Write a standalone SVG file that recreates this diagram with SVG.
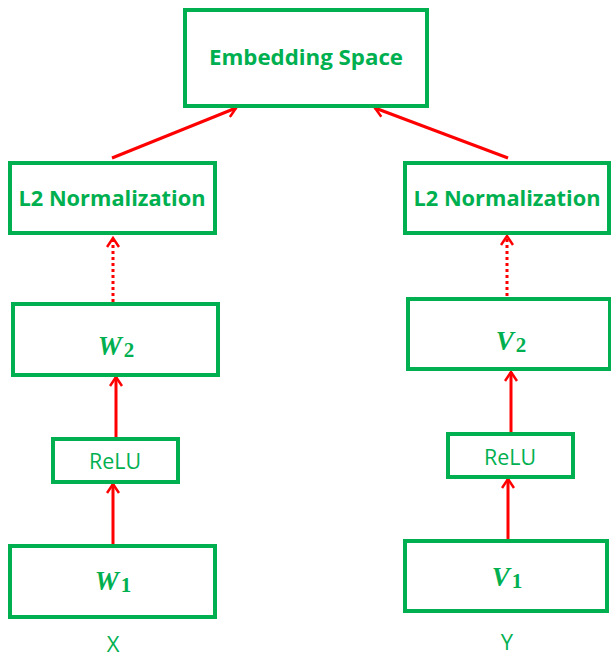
<svg xmlns="http://www.w3.org/2000/svg" width="611" height="657" viewBox="0 0 611 657">
<style>
.box{fill:#fff;stroke:#00B050;stroke-width:4}
.t{font-family:"Open Sans","Liberation Sans",sans-serif;fill:#00B050;text-anchor:middle}
.b{font-weight:bold;font-size:22px}
.r{font-size:22px}
.m{font-family:"Liberation Serif",serif;font-weight:bold;font-style:italic;font-size:27px;fill:#00B050;text-anchor:middle}
.s{font-family:"Liberation Serif",serif;font-weight:bold;font-style:normal;font-size:21px}
.c{stroke:#FF0000;stroke-width:3;fill:none}
.d{stroke-dasharray:3 3}
</style>
<defs>
<marker id="ah" markerWidth="14" markerHeight="14" refX="11" refY="7" orient="auto" markerUnits="userSpaceOnUse">
<path d="M2,1 L11,7 L2,13" fill="none" stroke="#FF0000" stroke-width="2.5"/>
</marker>
</defs>
<g id="connectors">
<line class="c" x1="112" y1="158" x2="236" y2="108" marker-end="url(#ah)"/>
<line class="c" x1="508" y1="158" x2="375" y2="108" marker-end="url(#ah)"/>
<line class="c d" x1="113" y1="302" x2="113" y2="238" marker-end="url(#ah)"/>
<line class="c d" x1="507" y1="296" x2="507" y2="236" marker-end="url(#ah)"/>
<line class="c" x1="116" y1="437" x2="116" y2="377" marker-end="url(#ah)"/>
<line class="c" x1="511" y1="432" x2="511" y2="372" marker-end="url(#ah)"/>
<line class="c" x1="113" y1="544" x2="113" y2="484" marker-end="url(#ah)"/>
<line class="c" x1="508" y1="540" x2="508" y2="479" marker-end="url(#ah)"/>
</g>
<g id="embedding">
<rect class="box" x="185" y="10" width="242" height="96"/>
<text class="t b" x="306" y="65" textLength="194" lengthAdjust="spacingAndGlyphs">Embedding Space</text>
</g>
<g id="l2-left">
<rect class="box" x="10" y="163" width="205" height="70"/>
<text class="t b" x="112" y="206" textLength="187" lengthAdjust="spacingAndGlyphs">L2 Normalization</text>
</g>
<g id="l2-right">
<rect class="box" x="405" y="163" width="204" height="70"/>
<text class="t b" x="507" y="206" textLength="187" lengthAdjust="spacingAndGlyphs">L2 Normalization</text>
</g>
<g id="w2">
<rect class="box" x="13" y="304" width="205" height="71"/>
<text class="m" x="116" y="355">W<tspan class="s" dx="2" dy="2">2</tspan></text>
</g>
<g id="v2">
<rect class="box" x="408" y="299" width="202" height="70"/>
<text class="m" x="511" y="350">V<tspan class="s" dx="2" dy="2">2</tspan></text>
</g>
<g id="relu-left">
<rect class="box" x="53" y="439" width="125" height="43"/>
<text class="t r" x="115" y="469" textLength="52" lengthAdjust="spacingAndGlyphs">ReLU</text>
</g>
<g id="relu-right">
<rect class="box" x="448" y="434" width="125" height="43"/>
<text class="t r" x="510" y="465" textLength="52" lengthAdjust="spacingAndGlyphs">ReLU</text>
</g>
<g id="w1">
<rect class="box" x="10" y="546" width="205" height="71"/>
<text class="m" x="113" y="590">W<tspan class="s" dx="2" dy="2">1</tspan></text>
</g>
<g id="v1">
<rect class="box" x="405" y="541" width="202" height="70"/>
<text class="m" x="507" y="586">V<tspan class="s" dx="2" dy="2">1</tspan></text>
</g>
<text class="t r" x="113" y="652">X</text>
<text class="t r" x="507" y="650">Y</text>
</svg>
